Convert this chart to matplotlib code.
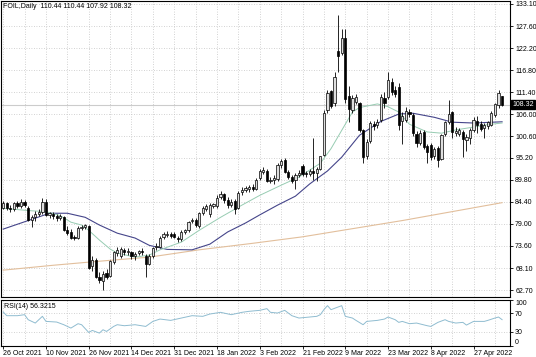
import numpy as np
import matplotlib
matplotlib.use("Agg")
import matplotlib.pyplot as plt

# =========================
# Daily candles, oldest first
# =========================
opens = [83.0, 84.0, 83.0, 82.6, 84.0, 83.4, 84.4, 83.0, 80.0, 80.6,
         81.5, 81.8, 84.4, 81.2, 81.5, 80.8, 80.5, 80.6, 77.5, 77.0,
         75.8, 75.6, 78.0, 78.2, 78.4, 68.6, 70.0, 66.0, 65.0, 67.0,
         66.2, 69.6, 71.8, 71.0, 72.6, 72.0, 72.0, 71.0, 71.8, 72.2,
         71.2, 69.2, 71.0, 73.2, 73.4, 75.8, 76.2, 76.5, 76.6, 75.6,
         75.2, 77.0, 77.4, 79.6, 80.0, 78.4, 81.6, 82.6, 81.4, 83.4,
         83.5, 85.5, 86.3, 84.8, 83.6, 84.6, 83.0, 86.8, 87.3, 87.6,
         88.0, 87.6, 90.2, 91.8, 92.0, 89.6, 89.8, 90.0, 93.4, 94.6,
         91.8, 90.4, 89.8, 91.0, 93.2, 91.4, 91.2, 92.0, 91.6, 92.6,
         96.0, 107.0, 111.6, 108.6, 121.4, 121.0, 124.7, 110.4, 107.0, 109.0,
         108.6, 102.0, 95.6, 99.4, 103.6, 103.2, 104.5, 110.0, 110.2, 114.0,
         111.8, 112.7, 104.2, 104.5, 106.6, 105.8, 101.2, 99.0, 101.6, 98.2,
         98.4, 95.6, 97.6, 95.0, 101.0, 104.0, 106.4, 101.4, 101.2, 101.6,
         99.6, 100.0, 102.0, 104.2, 103.6, 102.6, 103.0, 103.4, 105.8, 108.2,
         110.44]
highs = [84.6, 84.4, 83.6, 84.4, 84.6, 85.0, 84.8, 83.5, 81.2, 82.2,
         82.6, 85.4, 85.0, 82.0, 82.0, 81.5, 81.3, 80.8, 78.4, 77.8,
         76.2, 78.4, 78.8, 79.0, 78.6, 71.0, 70.5, 67.2, 67.5, 67.8,
         70.2, 72.3, 73.2, 73.3, 73.0, 73.0, 72.4, 72.0, 72.6, 73.0,
         71.6, 71.6, 73.4, 74.2, 76.0, 77.0, 77.2, 77.0, 77.0, 76.0,
         77.4, 77.8, 79.8, 80.5, 80.4, 82.0, 83.3, 83.8, 84.2, 84.2,
         86.0, 87.0, 86.6, 85.6, 85.0, 85.0, 87.0, 88.0, 88.4, 88.6,
         88.8, 90.2, 92.6, 93.0, 92.4, 90.6, 91.0, 94.0, 95.0, 95.2,
         92.2, 91.0, 91.4, 92.2, 93.6, 92.0, 92.6, 100.2, 93.0, 95.8,
         107.0, 111.9, 112.0, 116.4, 130.4, 127.0, 127.0, 113.0, 110.8, 111.0,
         109.0, 102.4, 99.8, 104.2, 104.4, 104.8, 111.0, 111.4, 116.4, 114.8,
         113.0, 113.6, 106.4, 107.8, 107.2, 106.2, 101.8, 102.0, 102.0, 98.6,
         99.0, 98.0, 98.2, 101.2, 104.4, 109.5, 106.8, 102.8, 102.6, 102.0,
         101.2, 102.6, 105.2, 105.6, 104.2, 103.8, 104.4, 106.8, 108.8, 111.8,
         110.44]
lows = [82.6, 82.4, 82.0, 82.2, 83.0, 83.0, 83.2, 79.6, 78.3, 79.8,
        81.0, 81.5, 80.8, 80.4, 80.2, 79.8, 79.9, 77.2, 76.3, 75.2,
        74.9, 75.3, 77.6, 77.8, 67.8, 67.5, 65.6, 64.5, 62.8, 65.3,
        65.8, 69.0, 71.2, 70.6, 71.4, 71.4, 70.4, 70.0, 71.3, 71.4,
        65.8, 68.8, 70.5, 72.6, 73.0, 75.2, 75.8, 75.4, 75.4, 74.6,
        74.8, 76.6, 77.0, 79.2, 78.2, 78.0, 81.2, 82.2, 80.6, 82.8,
        83.0, 85.0, 84.0, 83.0, 83.2, 81.5, 82.6, 86.2, 86.8, 86.8,
        87.0, 87.2, 89.8, 91.2, 89.2, 89.0, 88.8, 89.6, 92.8, 91.4,
        90.0, 89.0, 87.5, 90.4, 90.8, 90.6, 90.8, 89.8, 89.5, 92.2,
        95.6, 106.2, 107.4, 108.0, 116.4, 120.6, 108.8, 104.0, 106.2, 108.4,
        101.6, 93.9, 95.0, 99.0, 102.2, 102.6, 104.0, 107.6, 109.8, 110.6,
        110.2, 102.0, 98.6, 104.0, 105.2, 100.6, 98.0, 98.4, 97.4, 93.9,
        94.8, 95.0, 93.0, 94.6, 100.6, 103.6, 100.2, 100.6, 100.6, 95.4,
        97.0, 98.6, 101.6, 101.4, 101.8, 100.0, 102.4, 103.0, 105.4, 107.6,
        107.92]
closes = [84.0, 83.0, 82.6, 84.0, 83.4, 84.4, 83.6, 80.0, 80.6, 81.5,
          82.0, 84.3, 81.2, 81.6, 80.8, 80.5, 80.9, 77.5, 76.8, 75.6,
          75.4, 78.0, 78.3, 78.6, 68.2, 70.2, 66.0, 65.2, 66.6, 65.8,
          69.8, 72.0, 72.6, 72.8, 72.0, 72.4, 71.0, 71.6, 72.2, 72.0,
          69.2, 71.2, 73.0, 73.5, 75.6, 76.5, 76.6, 76.0, 75.8, 75.3,
          77.0, 77.4, 79.4, 79.9, 78.6, 81.6, 82.8, 83.4, 83.6, 83.8,
          85.4, 86.4, 84.8, 83.6, 84.4, 82.6, 86.6, 87.4, 87.8, 88.0,
          87.6, 89.8, 92.0, 92.2, 89.6, 89.8, 90.2, 93.4, 94.4, 91.8,
          90.6, 89.6, 91.0, 91.6, 91.2, 91.2, 92.0, 91.4, 92.4, 95.6,
          106.2, 111.2, 108.0, 115.1, 120.2, 124.7, 109.6, 107.2, 110.0, 110.2,
          102.2, 95.4, 99.2, 103.8, 103.0, 104.0, 110.2, 108.8, 114.4, 111.4,
          111.0, 103.3, 105.6, 106.8, 106.0, 101.3, 98.8, 101.4, 98.0, 96.6,
          95.4, 97.4, 94.8, 100.8, 104.0, 106.0, 101.6, 101.8, 102.0, 99.8,
          100.4, 102.0, 104.6, 103.2, 102.4, 103.2, 104.0, 106.3, 108.4, 111.2,
          108.32]

# Moving averages (bar index, value)
fast_ma_idx = [0, 8, 12, 16, 19, 22, 24, 27, 30, 32, 37, 41, 44, 50, 55, 61, 67,
               72, 78, 83, 89, 92, 96, 98, 100, 105, 108, 111, 114, 119, 123,
               127, 132, 136, 140]
fast_ma = [82.8, 82.2, 82.0, 81.0, 79.4, 78.7, 77.4, 75.0, 72.8, 71.8, 70.8,
           71.3, 72.6, 74.5, 77.4, 80.6, 83.6, 86.0, 88.5, 90.5, 93.9, 97.5,
           103.5, 106.5, 107.6, 108.5, 107.8, 106.5, 103.5, 101.6, 101.3,
           102.1, 102.8, 103.4, 103.8]
slow_ma_idx = [0, 5, 9, 13, 18, 23, 27, 32, 37, 41, 46, 53, 58, 63, 68, 72, 77,
               82, 86, 91, 95, 100, 106, 111, 115, 121, 126, 132, 140]
slow_ma = [77.7, 79.2, 80.4, 81.6, 81.6, 80.6, 78.7, 76.7, 75.5, 73.7, 72.7,
           72.6, 74.0, 77.0, 79.2, 81.2, 83.6, 85.8, 88.8, 92.0, 95.4, 100.8,
           104.2, 106.0, 106.2, 105.2, 104.0, 103.8, 104.1]
long_ma_idx = [0, 14, 27, 41, 55, 70, 84, 98, 112, 126, 140]
long_ma = [67.6, 68.8, 69.8, 70.8, 72.6, 74.2, 75.8, 77.8, 79.8, 82.0, 84.2]

# RSI(14) (bar index, value)
rsi_idx = [0, 1, 4, 6, 7, 9, 10, 11, 12, 15, 17, 19, 21, 22, 24, 25, 27, 28,
           29, 31, 32, 34, 37, 40, 42, 44, 47, 50, 53, 56, 58, 61, 64, 67, 69,
           72, 74, 75, 77, 79, 81, 83, 86, 88, 89, 90, 91, 92, 94, 95, 96, 98,
           99, 101, 102, 105, 107, 108, 110, 111, 112, 114, 116, 119, 120, 122,
           124, 125, 127, 129, 130, 132, 135, 136, 138, 139, 140]
rsi_vals = [72.9, 64.9, 64.9, 67.1, 56.2, 48.9, 56.2, 63.5, 52.5, 51.1, 45.3,
            38.0, 47.5, 45.3, 28.5, 32.9, 27.1, 34.4, 30.7, 41.6, 45.3, 43.1,
            45.3, 41.6, 52.5, 57.6, 54.7, 59.8, 64.9, 63.5, 68.5, 72.2, 67.1,
            72.2, 74.4, 76.5, 80.2, 72.2, 70.7, 76.5, 64.9, 59.8, 62.0, 63.5,
            67.1, 78.0, 86.7, 78.0, 83.8, 86.7, 63.5, 59.8, 54.7, 45.3, 52.5,
            54.7, 57.6, 62.0, 56.2, 50.4, 52.5, 47.5, 48.9, 43.1, 41.6, 50.4,
            56.2, 52.5, 48.9, 50.4, 44.5, 52.5, 52.5, 54.7, 59.8, 62.0, 56.3]

price_ticks = [133.10, 127.60, 122.20, 116.80, 111.40, 106.00, 100.60, 95.20,
               89.80, 84.40, 79.00, 73.60, 68.10, 62.70]
date_pos = [0, 12, 24, 36, 48, 60, 72, 84, 96, 108, 120, 132]
date_labels = ["26 Oct 2021", "10 Nov 2021", "26 Nov 2021", "14 Dec 2021",
               "31 Dec 2021", "18 Jan 2022", "3 Feb 2022", "21 Feb 2022",
               "9 Mar 2022", "23 Mar 2022", "8 Apr 2022", "27 Apr 2022"]
rsi_ticks = [0, 30, 70, 100]
last_price = 108.32

plt.rcParams["font.family"] = ["Liberation Sans", "DejaVu Sans"]

o = np.array(opens)
h = np.array(highs)
l = np.array(lows)
c = np.array(closes)
x = np.arange(len(c))
up = c >= o

FS = 5
GRID = dict(color="#c4c4c4", linestyle=(0, (1, 2)), linewidth=0.6)

fig = plt.figure(figsize=(5.36, 3.57), dpi=100)
ax = fig.add_axes([0.002, 0.167, 0.950, 0.830])
ax_rsi = fig.add_axes([0.002, 0.032, 0.950, 0.129])

# =========================
# Price panel
# =========================
ax.vlines(x, l, h, color="black", linewidth=0.6, zorder=3)
ax.bar(x[up], np.maximum(c - o, 0.15)[up], bottom=o[up], width=0.62,
       color="#dedede", edgecolor="black", linewidth=0.5, zorder=4)
ax.bar(x[~up], np.maximum(o - c, 0.15)[~up], bottom=c[~up], width=0.62,
       color="black", edgecolor="black", linewidth=0.5, zorder=4)

ax.plot(long_ma_idx, long_ma, color="#e2bf9c", linewidth=0.8, zorder=2)
ax.plot(slow_ma_idx, slow_ma, color="#45458a", linewidth=0.8, zorder=2)
ax.plot(fast_ma_idx, fast_ma, color="#97ccb2", linewidth=0.7, zorder=2)

ax.axhline(last_price, color="#cccccc", linewidth=0.8, zorder=1)

ax.set_xlim(-0.6, 142.3)
ax.set_ylim(60.9, 133.8)
ax.set_yticks(price_ticks)
ax.set_yticklabels([f"{p:.2f}" for p in price_ticks])
ax.yaxis.tick_right()
ax.set_xticks(np.arange(0, 141, 6))
ax.tick_params(axis="x", length=0, labelbottom=False)
ax.tick_params(axis="y", length=2, pad=1.5, labelsize=FS, width=0.6)
ax.grid(True, **GRID)
ax.set_axisbelow(True)

ax.text(1.004, last_price, f"{last_price:.2f}", transform=ax.get_yaxis_transform(),
        ha="left", va="center", fontsize=FS, color="white",
        bbox=dict(facecolor="black", edgecolor="black", pad=0.6))
ax.text(0.004, 0.992, "FOIL,Daily  110.44 110.44 107.92 108.32",
        transform=ax.transAxes, ha="left", va="top", fontsize=FS)

# =========================
# RSI panel
# =========================
ax_rsi.plot(rsi_idx, rsi_vals, color="#8fbcd0", linewidth=0.7)
ax_rsi.set_xlim(-0.6, 142.3)
ax_rsi.set_ylim(0, 100)
ax_rsi.set_yticks(rsi_ticks)
ax_rsi.yaxis.tick_right()
ax_rsi.tick_params(axis="y", length=2, pad=1.5, labelsize=FS, width=0.6)
ylabs = ax_rsi.get_yticklabels()
ylabs[0].set_va("bottom")
ylabs[-1].set_va("top")

ax_rsi.set_xticks(date_pos)
ax_rsi.set_xticklabels(date_labels, ha="left")
ax_rsi.set_xticks(np.arange(0, 141, 6), minor=True)
ax_rsi.tick_params(axis="x", which="major", length=2, pad=1.5, labelsize=FS, width=0.6)
ax_rsi.tick_params(axis="x", which="minor", length=0)
ax_rsi.grid(True, which="both", **GRID)
ax_rsi.text(0.006, 0.93, "RSI(14) 56.3215", transform=ax_rsi.transAxes,
            ha="left", va="top", fontsize=FS)

for a in (ax, ax_rsi):
    for s in a.spines.values():
        s.set_linewidth(0.8)

fig.savefig("out.png", dpi=100)
